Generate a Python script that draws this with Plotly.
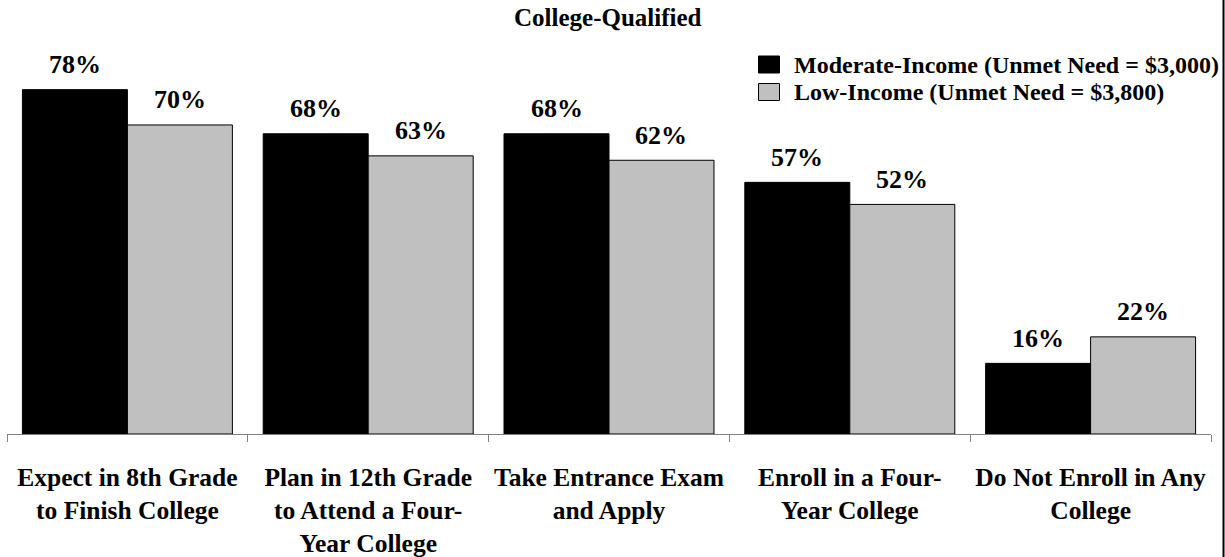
import plotly.graph_objects as go

categories = [
    "Expect in 8th Grade<br>to Finish College",
    "Plan in 12th Grade<br>to Attend a Four-<br>Year College",
    "Take Entrance Exam<br>and Apply",
    "Enroll in a Four-<br>Year College",
    "Do Not Enroll in Any<br>College",
]
series_names = ["Moderate-Income (Unmet Need = $3,000)", "Low-Income (Unmet Need = $3,800)"]
moderate = [78, 68, 68, 57, 16]
low = [70, 63, 62, 52, 22]
colors = ["#000000", "#C0C0C0"]
title_text = "College-Qualified"

FONT = "Liberation Serif, Times New Roman, serif"
W, H = 1225, 557
ML, MR, MT, MB = 7, 14, 40, 123
PX_PER_UNIT = 4.415
plot_h = H - MT - MB
plot_w = W - ML - MR
ymax = plot_h / PX_PER_UNIT
bargap = 0.128


def px_x(px):
    return (px - ML) / plot_w


def px_y(py):
    return (H - MB - py) / plot_h


fig = go.Figure()
for name, vals, col in zip(series_names, [moderate, low], colors):
    fig.add_trace(go.Bar(
        x=categories, y=vals, name=name,
        marker=dict(color=col, line=dict(color="#000000", width=1)),
        showlegend=False, hoverinfo="skip",
    ))

annotations = []
half = (1 - bargap) / 4
for k, vals in enumerate([moderate, low]):
    off = -half if k == 0 else half
    for i, v in enumerate(vals):
        annotations.append(dict(
            x=i + off, y=v, xref="x", yref="y", text=f"<b>{v}%</b>",
            showarrow=False, yanchor="middle", yshift=25,
            font=dict(family=FONT, size=26, color="#000000"),
        ))

# title
annotations.append(dict(
    x=px_x(608), y=px_y(18), xref="paper", yref="paper",
    text=f"<b>{title_text}</b>", showarrow=False, xanchor="center", yanchor="middle",
    font=dict(family=FONT, size=25, color="#000000"),
))

# manual legend
shapes = []
legend_rows = [64.5, 92.0]
for name, col, cy in zip(series_names, colors, legend_rows):
    shapes.append(dict(
        type="rect", xref="paper", yref="paper",
        x0=px_x(758.5), x1=px_x(779.5), y0=px_y(cy + 8.5), y1=px_y(cy - 8.5),
        fillcolor=col, line=dict(color="#000000", width=1),
    ))
    annotations.append(dict(
        x=px_x(792), y=px_y(cy), xref="paper", yref="paper",
        text=f"<b>{name}</b>", showarrow=False, xanchor="left", yanchor="middle",
        font=dict(family=FONT, size=24, color="#000000"),
    ))

# right frame line
shapes.append(dict(
    type="line", xref="paper", yref="paper",
    x0=px_x(1223.5), x1=px_x(1223.5), y0=px_y(H), y1=px_y(0),
    line=dict(color="#000000", width=2),
))

fig.update_layout(
    width=W, height=H,
    margin=dict(l=ML, r=MR, t=MT, b=MB, autoexpand=False),
    paper_bgcolor="#FFFFFF", plot_bgcolor="#FFFFFF",
    barmode="group", bargap=bargap, bargroupgap=0,
    annotations=annotations, shapes=shapes,
    xaxis=dict(
        type="category", showline=True, linecolor="#808080", linewidth=1,
        ticks="outside", tickson="boundaries", ticklen=7, tickcolor="#808080", tickwidth=1,
        tickfont=dict(family=FONT, size=25.5, color="#000000"),
        ticklabelstandoff=20, showgrid=False, zeroline=False, automargin=False,
    ),
    yaxis=dict(range=[0, ymax], visible=False, showgrid=False, zeroline=False, automargin=False),
    font=dict(family=FONT),
)
fig.update_xaxes(ticktext=[f"<b>{c}</b>".replace("<br>", "</b><br><b>") for c in categories],
                 tickvals=categories)

fig.write_html(
    "out.html",
    config={"displayModeBar": False},
    post_script="document.body.style.margin='0';document.body.style.padding='0';",
)
